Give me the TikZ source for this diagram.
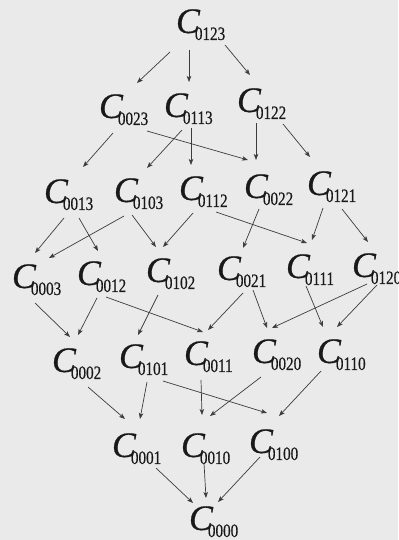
\documentclass[tikz,border=0pt]{standalone}
\usepackage{fontspec}
\setmainfont{Liberation Serif}
\newfontfamily\cfont{Liberation Serif}[FakeBold=0.5]
\usepackage{graphicx}
\usetikzlibrary{arrows.meta}
\definecolor{bgc}{RGB}{234,234,234}
\definecolor{ink}{RGB}{25,25,25}
\definecolor{edgec}{RGB}{60,60,60}
\newcommand\lbl[1]{{\cfont\fontsize{36}{36}\selectfont\itshape C}\hspace{-5pt}\raisebox{-7pt}{\scalebox{0.8}[1]{\cfont\fontsize{19}{19}\selectfont #1}}}
\newcommand\edg[6]{\draw[arr] ([shift={(#2,#3)}]#1.base west) -- ([shift={(#5,#6)}]#4.base west);}
\tikzset{
  lab/.style={anchor=base west, inner sep=0pt, outer sep=0pt, text=ink},
  arr/.style={draw=edgec, line width=0.7bp, -{Stealth[length=6bp,width=4.5bp,inset=1.5bp]}}
}
\begin{document}
\begin{tikzpicture}[x=1bp,y=-1bp]
\fill[bgc] (0,0) rectangle (398,540);
\useasboundingbox (0,0) rectangle (398,540);
% nodes (C left edge, C baseline)
\node[lab] (n0123) at (176,33) {\lbl{0123}};
\node[lab] (n0023) at (99,118) {\lbl{0023}};
\node[lab] (n0113) at (164,117) {\lbl{0113}};
\node[lab] (n0122) at (237,112) {\lbl{0122}};
\node[lab] (n0013) at (44,203) {\lbl{0013}};
\node[lab] (n0103) at (114,202) {\lbl{0103}};
\node[lab] (n0112) at (179,200) {\lbl{0112}};
\node[lab] (n0022) at (244,198) {\lbl{0022}};
\node[lab] (n0121) at (307,195) {\lbl{0121}};
\node[lab] (n0003) at (12,288) {\lbl{0003}};
\node[lab] (n0012) at (77,285) {\lbl{0012}};
\node[lab] (n0102) at (146,282) {\lbl{0102}};
\node[lab] (n0021) at (217,280) {\lbl{0021}};
\node[lab] (n0111) at (286,278) {\lbl{0111}};
\node[lab] (n0120) at (352,277) {\lbl{0120}};
\node[lab] (n0002) at (52,372) {\lbl{0002}};
\node[lab] (n0101) at (119,368) {\lbl{0101}};
\node[lab] (n0011) at (184,365) {\lbl{0011}};
\node[lab] (n0020) at (252,363) {\lbl{0020}};
\node[lab] (n0110) at (317,363) {\lbl{0110}};
\node[lab] (n0001) at (112,457) {\lbl{0001}};
\node[lab] (n0010) at (181,457) {\lbl{0010}};
\node[lab] (n0100) at (249,453) {\lbl{0100}};
\node[lab] (n0000) at (189,530) {\lbl{0000}};
% edges
\edg{n0123}{-6}{19}{n0023}{38}{-35}
\edg{n0123}{13}{17}{n0113}{25}{-35}
\edg{n0123}{49}{12}{n0122}{13}{-37}
\edg{n0023}{14}{15}{n0013}{39}{-36}
\edg{n0023}{48}{13}{n0022}{4}{-38}
\edg{n0113}{18}{13}{n0103}{33}{-34}
\edg{n0113}{27}{11}{n0112}{12}{-35}
\edg{n0122}{19}{11}{n0022}{12}{-38}
\edg{n0122}{46}{12}{n0121}{3}{-38}
\edg{n0013}{20}{15}{n0003}{23}{-35}
\edg{n0013}{35}{15}{n0012}{21}{-34}
\edg{n0103}{10}{14}{n0003}{37}{-30}
\edg{n0103}{18}{13}{n0102}{10}{-35}
\edg{n0112}{14}{13}{n0102}{17}{-35}
\edg{n0112}{37}{12}{n0111}{21}{-35}
\edg{n0022}{15}{11}{n0021}{26}{-32}
\edg{n0121}{16}{13}{n0111}{26}{-38}
\edg{n0121}{35}{14}{n0120}{16}{-35}
\edg{n0003}{23}{15}{n0002}{18}{-35}
\edg{n0012}{20}{13}{n0002}{26}{-37}
\edg{n0012}{29}{12}{n0011}{19}{-33}
\edg{n0102}{12}{13}{n0101}{19}{-33}
\edg{n0021}{26}{13}{n0011}{24}{-35}
\edg{n0021}{36}{10}{n0020}{15}{-35}
\edg{n0120}{15}{7}{n0020}{20}{-35}
\edg{n0111}{20}{8}{n0110}{6}{-36}
\edg{n0120}{25}{8}{n0110}{20}{-36}
\edg{n0002}{36}{15}{n0001}{13}{-38}
\edg{n0101}{28}{14}{n0001}{28}{-38}
\edg{n0101}{44}{13}{n0100}{18}{-40}
\edg{n0011}{17}{15}{n0010}{21}{-42}
\edg{n0020}{9}{14}{n0010}{29}{-41}
\edg{n0110}{4}{8}{n0100}{30}{-37}
\edg{n0001}{44}{11}{n0000}{4}{-27}
\edg{n0010}{23}{6}{n0000}{17}{-32}
\edg{n0100}{11}{4}{n0000}{29}{-28}
\end{tikzpicture}
\end{document}
